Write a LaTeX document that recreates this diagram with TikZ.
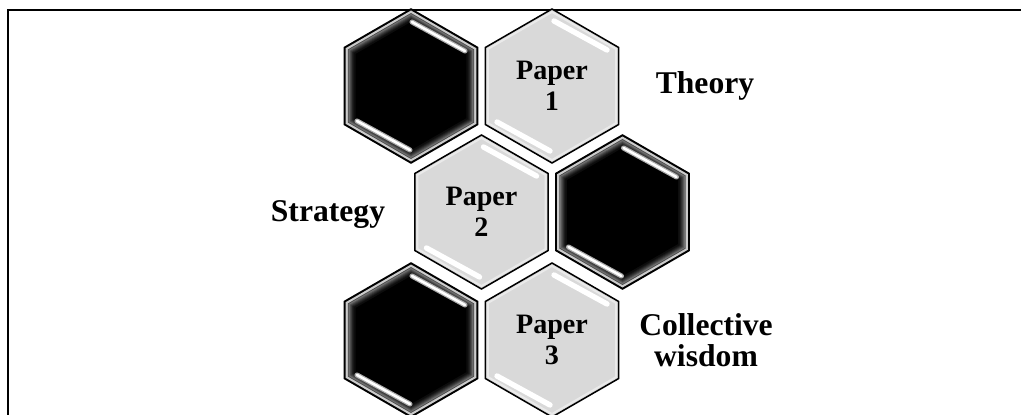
\documentclass[tikz,border=0pt]{standalone}
\usepackage{fontspec}
\setmainfont{Liberation Serif}
\usetikzlibrary{calc}

% hexagon path around a named centre
\newcommand{\hexpath}[2]{(#1) +(90:#2) -- +(150:#2) -- +(210:#2) -- +(270:#2) -- +(330:#2) -- +(30:#2) -- cycle}

\tikzset{
    tilelabel/.style={font=\fontsize{24}{26.5}\selectfont\bfseries, align=center, inner sep=0pt},
    sidelabel/.style={font=\fontsize{27}{26.5}\selectfont\bfseries, align=center, inner sep=0pt},
    darkbar/.style={line width=4.3pt, gray!65, line cap=round},
    darkshine/.style={line width=2.2pt, white, line cap=round},
    lightshine/.style={line width=4.6pt, white, line cap=round}
}

% black tile with rim, inner glow and shine
\newcommand{\blacktile}[3]{%
    \coordinate (#1) at (#2,#3);
    \filldraw[fill=black, draw=black, line width=1.3pt] \hexpath{#1}{77};
    \fill[white!80!black] \hexpath{#1}{75.5};
    \fill[black!70] \hexpath{#1}{73};
    \foreach \r/\c in {72/55, 71/64, 70/72, 69/79, 68/85, 67/90, 66/95, 64/100}
        {\fill[black!\c] \hexpath{#1}{\r};}
    \draw[darkbar] ($(#1)+(1,64)$) -- ($(#1)+(54,35)$);
    \draw[darkshine] ($(#1)+(1,64)$) -- ($(#1)+(54,35)$);
    \draw[darkbar] ($(#1)+(-54,-35)$) -- ($(#1)+(-1,-64)$);
    \draw[darkshine] ($(#1)+(-54,-35)$) -- ($(#1)+(-1,-64)$);
}

% grey tile with its text
\newcommand{\papertile}[4]{%
    \coordinate (#1) at (#2,#3);
    \filldraw[fill=gray!30, draw=black, line width=1.3pt] \hexpath{#1}{77};
    \draw[white, opacity=0.45, line width=1.6pt] \hexpath{#1}{74};
    \draw[lightshine] ($(#1)+(2,65)$) -- ($(#1)+(55,36)$);
    \draw[lightshine] ($(#1)+(-55,-36)$) -- ($(#1)+(-2,-65)$);
    \node[tilelabel] (#1-txt) at (#1) {#4};
}

\begin{document}
\begin{tikzpicture}[x=0.03cm, y=0.03cm]

    \useasboundingbox (0,0) rectangle (1021,414);
    \clip (0,0) rectangle (1021,414);

    % cadre
    \draw[line width=2.2pt] (8,-20) |- (1040,404);

    % rangee du haut
    \blacktile{hexA}{411}{328}
    \papertile{paperA}{552}{328}{Paper\\1}

    % rangee du milieu
    \papertile{paperB}{481.5}{202}{Paper\\2}
    \blacktile{hexB}{622.5}{202}

    % rangee du bas
    \blacktile{hexC}{411}{74}
    \papertile{paperC}{552}{74}{Paper\\3}

    % les themes
    \node[sidelabel] (theory) at (705,328) {Theory};
    \node[sidelabel] (strategy) at (328,199) {Strategy};
    \node[sidelabel] (wisdom) at (706,74) {Collective\\wisdom};

\end{tikzpicture}
\end{document}
